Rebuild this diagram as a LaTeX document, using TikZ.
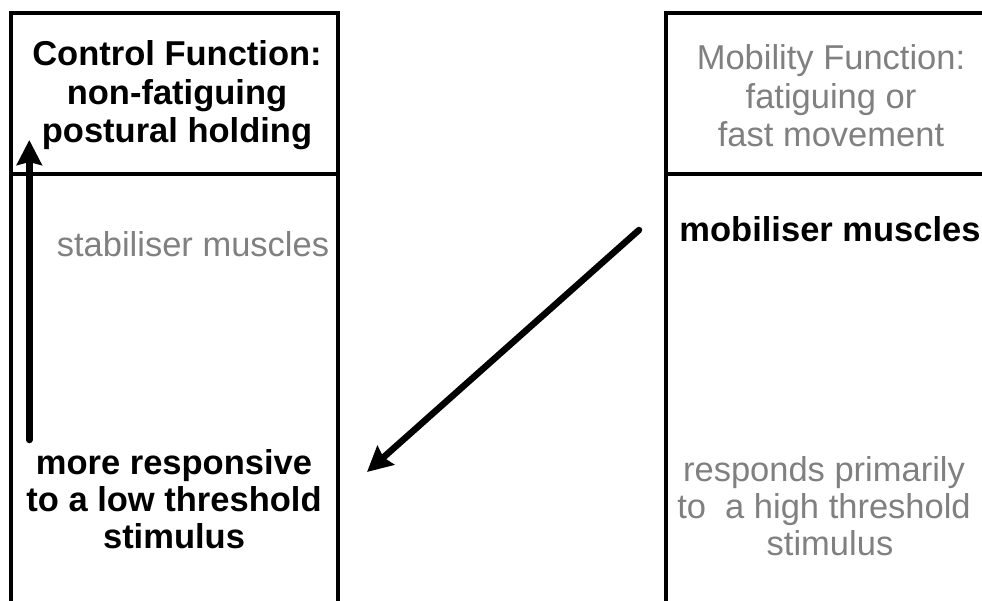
\documentclass[tikz,border=0pt]{standalone}
\usepackage{fontspec}
\setmainfont{Liberation Sans}
\usetikzlibrary{arrows.meta}
\definecolor{mutedgray}{HTML}{808080}
\begin{document}
\begin{tikzpicture}[x=1pt,y=-1pt,
  frame/.style={line width=3.8pt, line cap=rect},
  txt/.style={align=center, inner sep=0pt, anchor=base},
  hot/.style={txt, font=\fontsize{34.5}{38.5}\selectfont\bfseries},
  dim/.style={txt, font=\fontsize{34.5}{38.5}\selectfont, text=mutedgray},
  tight/.style={font=\fontsize{34.5}{37}\selectfont#1},
  flow/.style={line width=6.5pt, line cap=round, -{Stealth[length=25pt,width=25pt,inset=3pt]}}]
\useasboundingbox (0,0) rectangle (982,601);
% left column: control function
\draw[frame] (11.3,601) -- (11.3,12.7) -- (338,12.7) -- (338,601);
\draw[frame] (11.3,173.8) -- (338,173.8);
% right column: mobility function
\draw[frame] (666,601) -- (666,12.8) -- (990,12.8);
\draw[frame] (666,173.8) -- (990,173.8);
% texts (base anchor sits on the last line)
\node[hot] (ctrl) at (177,143) {Control Function:\\non-fatiguing\\postural holding};
\node[dim] (mob) at (831,147) {Mobility Function:\\fatiguing or\\fast movement};
\node[dim] (stab) at (193,257) {stabiliser muscles};
\node[hot] (mobm) at (830,242) {mobiliser muscles};
\node[hot, tight=\bfseries] (low) at (174,548) {more responsive\\to a low threshold\\stimulus};
\node[dim, tight=] (high) at (824,555) {responds primarily\\to\ \ a high threshold\\\hspace*{12pt}stimulus};
% arrows
\coordinate (upS) at (29.3,440);
\coordinate (upE) at (29.3,140);
\draw[flow] (upS) -- (upE);
\coordinate (dgS) at (639,230);
\coordinate (dgE) at (367,472);
\draw[flow] (dgS) -- (dgE);
\end{tikzpicture}
\end{document}
